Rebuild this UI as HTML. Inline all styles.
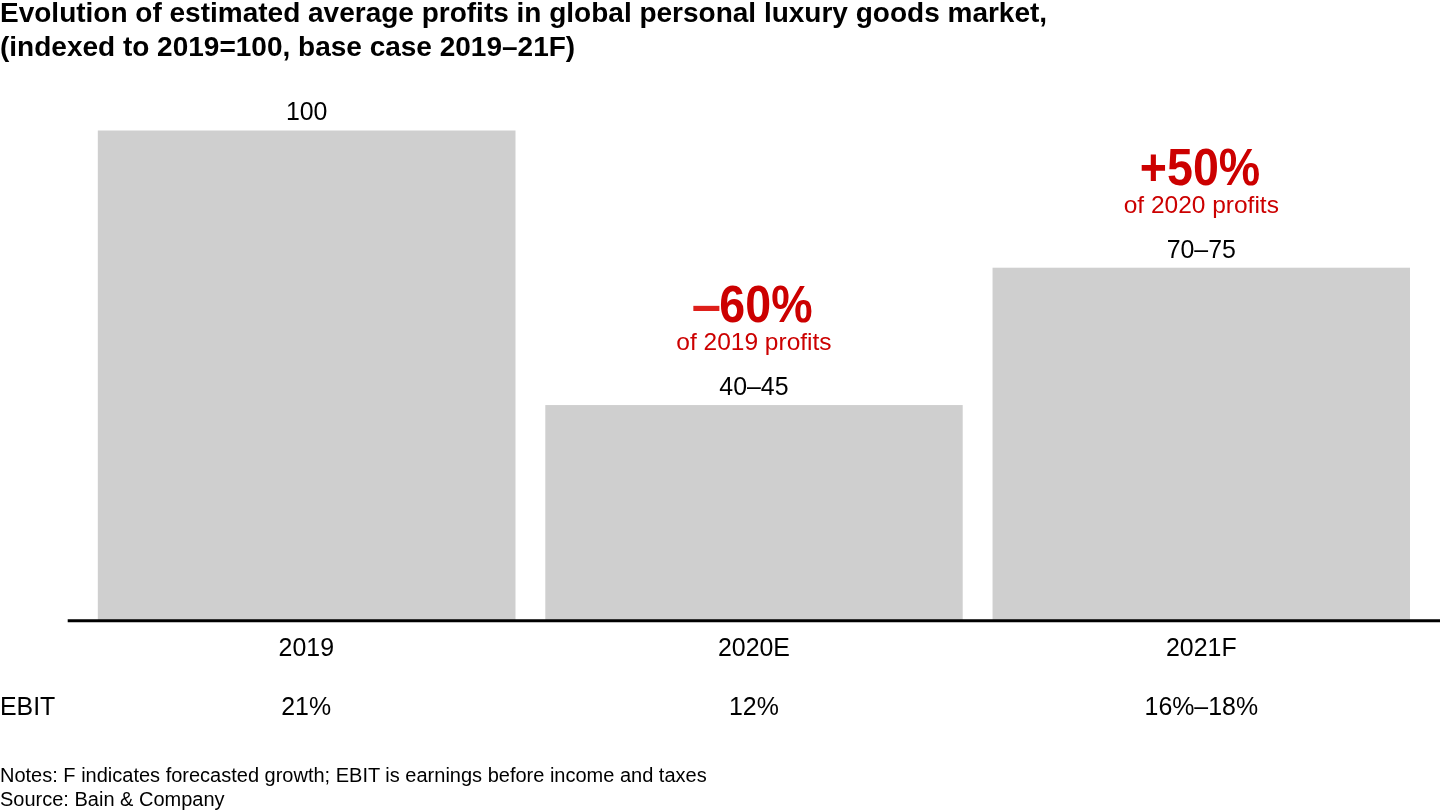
<!DOCTYPE html>
<html lang="en">
<head>
<meta charset="utf-8">
<title>Evolution of estimated average profits</title>
<style>
html,body{margin:0;padding:0;background:#fff;}
body{width:1440px;height:810px;position:relative;overflow:hidden;font-family:"Liberation Sans",Arial,sans-serif;color:#000;}
.title{position:absolute;left:0;font-weight:bold;font-size:28px;line-height:33.3px;white-space:nowrap;margin:0;}
.chart{position:absolute;left:0;top:0;display:block;}
.lbl{position:absolute;font-size:24.9px;line-height:28px;text-align:center;white-space:nowrap;transform:translateX(-50%);}
.big{position:absolute;font-size:48px;line-height:52px;font-weight:bold;color:#cc0000;text-align:center;white-space:nowrap;transform:translateX(-50%) scale(0.97,1.07);transform-origin:50% 42.64px;}
.big .dash{color:#de1f1a;display:inline-block;transform:scaleX(1.13);}
.red{color:#cc0000;font-size:24.5px;}
.note{position:absolute;left:0;font-size:20px;line-height:24px;white-space:nowrap;}
</style>
</head>
<body>
<div class="title" id="t1" style="top:-4px;">Evolution of estimated average profits in global personal luxury goods market,</div>
<div class="title" id="t2" style="top:30px;">(indexed to 2019=100, base case 2019–21F)</div>

<svg class="chart" width="1440" height="810" viewBox="0 0 1440 810">
<rect x="97.8" y="130.5" width="417.7" height="489.5" fill="#cfcfcf"/>
<rect x="545.3" y="405.05" width="417.4" height="214.95" fill="#cfcfcf"/>
<rect x="992.55" y="267.7" width="417.45" height="352.3" fill="#cfcfcf"/>
<rect x="67.7" y="619.25" width="1372.3" height="3" fill="#000"/>
</svg>

<div class="lbl" id="v1" style="left:306.65px;top:97px;">100</div>
<div class="lbl" id="v2" style="left:753.95px;top:372px;">40–45</div>
<div class="lbl" id="v3" style="left:1201.3px;top:235px;">70–75</div>

<div class="big" id="b2" style="left:752.95px;top:280px;"><span class="dash">–</span>60%</div>
<div class="lbl red" id="s2" style="left:753.95px;top:328px;">of 2019 profits</div>
<div class="big" id="b3" style="left:1200.3px;top:143px;">+50%</div>
<div class="lbl red" id="s3" style="left:1201.3px;top:191px;">of 2020 profits</div>

<div class="lbl" id="y1" style="left:306.3px;top:633px;">2019</div>
<div class="lbl" id="y2" style="left:753.95px;top:633px;">2020E</div>
<div class="lbl" id="y3" style="left:1201.3px;top:633px;">2021F</div>

<div class="lbl" id="e0" style="left:0;top:692px;transform:none;text-align:left;">EBIT</div>
<div class="lbl" id="e1" style="left:306.2px;top:692px;">21%</div>
<div class="lbl" id="e2" style="left:753.95px;top:692px;">12%</div>
<div class="lbl" id="e3" style="left:1201.3px;top:692px;">16%–18%</div>

<div class="note" id="n1" style="top:763px;">Notes: F indicates forecasted growth; EBIT is earnings before income and taxes</div>
<div class="note" id="n2" style="top:787px;">Source: Bain &amp; Company</div>
</body>
</html>
